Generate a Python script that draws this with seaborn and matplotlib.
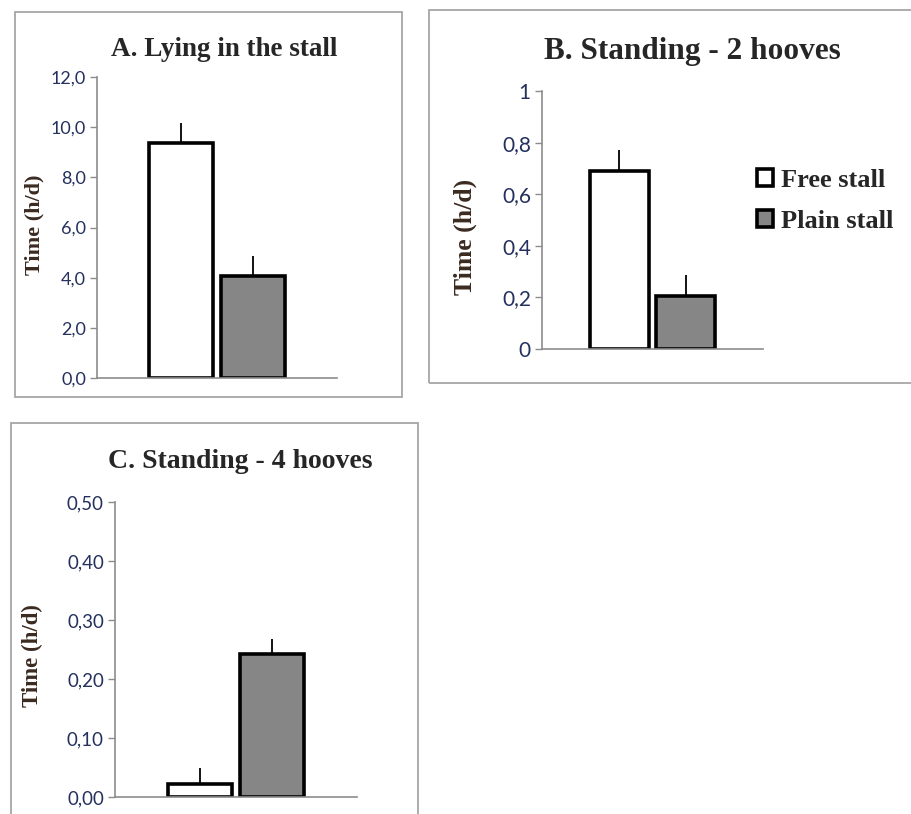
import pandas as pd
import matplotlib.pyplot as plt
import seaborn as sns
from matplotlib.patches import Rectangle

# values
stalls = ['Free stall', 'Plain stall']
lying = [9.38, 4.08]
lying_err = [0.80, 0.78]
stand2 = [0.69, 0.205]
stand2_err = [0.08, 0.083]
stand4 = [0.022, 0.242]
stand4_err = [0.027, 0.026]

titles = ['A. Lying in the stall', 'B. Standing - 2 hooves', 'C. Standing - 4 hooves']
yticks_a = [0, 2, 4, 6, 8, 10, 12]
ylabels_a = ['0,0', '2,0', '4,0', '6,0', '8,0', '10,0', '12,0']
yticks_b = [0, 0.2, 0.4, 0.6, 0.8, 1]
ylabels_b = ['0', '0,2', '0,4', '0,6', '0,8', '1']
yticks_c = [0, 0.1, 0.2, 0.3, 0.4, 0.5]
ylabels_c = ['0,00', '0,10', '0,20', '0,30', '0,40', '0,50']

sns.set_style('white')
plt.rcParams['font.family'] = ['Liberation Serif', 'DejaVu Serif']

W, H = 911, 814
fig = plt.figure(figsize=(W / 100, H / 100), dpi=100)


def frac(x0, y0, x1, y1):
    # pixel box (top-left origin) -> figure fraction [l, b, w, h]
    return [x0 / W, 1 - y1 / H, (x1 - x0) / W, (y1 - y0) / H]


# panel frames
for box in [(15, 12, 402, 397), (429, 10, 915, 383), (11, 423, 418, 820)]:
    l, b, w, h = frac(*box)
    fig.patches.append(Rectangle((l, b), w, h, transform=fig.transFigure,
                                 fill=False, edgecolor='#a6a6a6', lw=1.3, zorder=0))

palette = {'Free stall': 'white', 'Plain stall': '#868686'}
tick_color = '#24305e'
label_color = '#3a2a20'

# rect, values, errors, ticks, tick labels, ymax, tick size, ylabel size, ylabel pos
panels = [
    (frac(97, 77, 337, 378), lying, lying_err, yticks_a, ylabels_a, 12, 13, 16, (-0.262, 0.508)),
    (frac(542, 91, 763, 349), stand2, stand2_err, yticks_b, ylabels_b, 1, 15, 18.5, (-0.348, 0.434)),
    (frac(115, 502, 357, 797), stand4, stand4_err, yticks_c, ylabels_c, 0.5, 13.5, 16.5, (-0.343, 0.481)),
]

axes = []
for i, (rect, vals, errs, yt, yl, ymax, tsize, lsize, lpos) in enumerate(panels):
    ax = fig.add_axes(rect)
    df = pd.DataFrame({'group': ['x', 'x'], 'stall': stalls, 'value': vals})
    sns.barplot(data=df, x='group', y='value', hue='stall', palette=palette,
                edgecolor='black', linewidth=2.6, width=0.6, gap=0.12,
                legend=(i == 1), ax=ax)
    for p, e in zip(ax.patches[:2], errs):
        cx = p.get_x() + p.get_width() / 2
        ax.errorbar([cx], [p.get_height()], yerr=[[0], [e]], fmt='none',
                    ecolor='black', elinewidth=1.3, capsize=0, zorder=1)
    ax.set_ylim(0, ymax)
    ax.set_xlim(-0.5, 0.5)
    ax.set_yticks(yt)
    ax.set_yticklabels(yl, color=tick_color, fontsize=tsize,
                       family=['Lato', 'DejaVu Sans'])
    ax.tick_params(axis='y', left=True, length=5, width=1, color='#8c8c8c', pad=3)
    ax.set_xticks([])
    ax.set_xlabel('')
    ax.set_ylabel('Time (h/d)', fontsize=lsize, fontweight='bold',
                  color=label_color, va='center')
    ax.yaxis.set_label_coords(*lpos)
    for s in ['top', 'right']:
        ax.spines[s].set_visible(False)
    for s in ['left', 'bottom']:
        ax.spines[s].set_color('#8c8c8c')
        ax.spines[s].set_linewidth(1.2)
    ax.patch.set_alpha(0)
    axes.append(ax)

# titles placed in figure pixels above each panel
fig.text(224 / W, 1 - 49 / H, titles[0], ha='center', va='center',
         fontsize=19.5, fontweight='bold')
fig.text(692 / W, 1 - 52 / H, titles[1], ha='center', va='center',
         fontsize=22.5, fontweight='bold')
fig.text(240 / W, 1 - 462 / H, titles[2], ha='center', va='center',
         fontsize=20, fontweight='bold')

sns.move_legend(axes[1], loc='center left', bbox_to_anchor=(0.975, 0.575),
                frameon=False, title=None, handlelength=0.6,
                handleheight=0.6, handletextpad=0.3, labelspacing=0.68,
                borderpad=0, borderaxespad=0,
                prop={'weight': 'bold', 'size': 19})

fig.savefig('out.png', dpi=100)
